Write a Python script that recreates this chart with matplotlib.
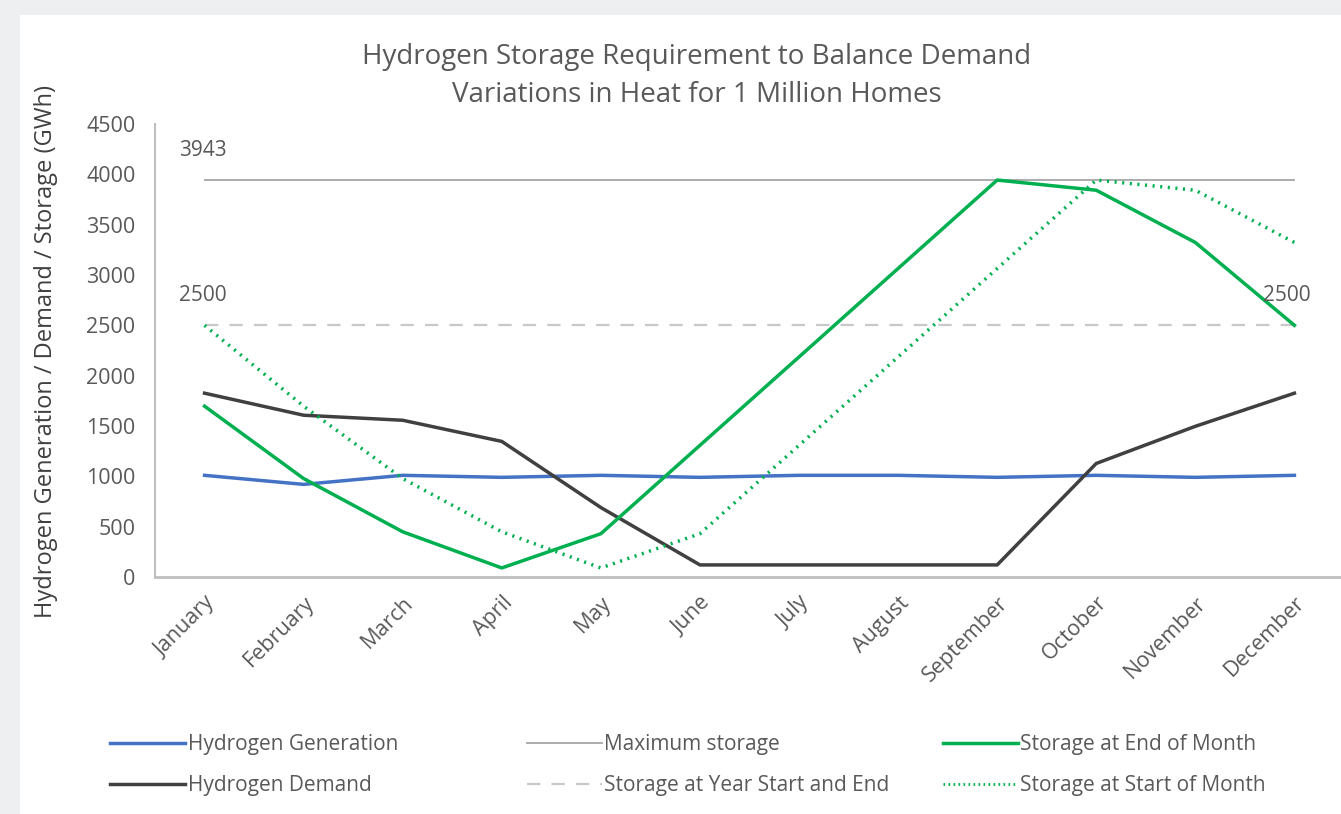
import matplotlib.pyplot as plt
from matplotlib.patches import Rectangle
from matplotlib.lines import Line2D

plt.rcParams['font.family'] = ['Open Sans', 'DejaVu Sans']

months = ["January", "February", "March", "April", "May", "June", "July",
          "August", "September", "October", "November", "December"]
generation = [1010, 920, 1010, 990, 1010, 990, 1010, 1010, 990, 1010, 990, 1010]
demand = [1826, 1607, 1557, 1347, 690, 120, 120, 120, 120, 1128, 1497, 1826]
storage_end = [1697, 978, 449, 90, 430, 1308, 2186, 3065, 3943, 3842, 3323, 2500]
storage_start = [2500, 1697, 978, 449, 90, 430, 1308, 2186, 3065, 3943, 3842, 3323]
max_storage = 3943
year_start_end = 2500

txt = '#595959'
fig = plt.figure(figsize=(13.41, 8.14), dpi=100)
fig.patch.set_facecolor('#EDEFF1')
fig.patches.append(Rectangle((20 / 1341, 0), 1, 1 - 15 / 814, transform=fig.transFigure,
                             facecolor='white', edgecolor='none', zorder=-5))

ax = fig.add_axes([155 / 1341, 237 / 814, 1 - 155 / 1341, 453 / 814])
ax.set_facecolor('none')
x = list(range(len(months)))

ax.plot(x, [max_storage] * len(x), color='#A6A6A6', lw=1.3)
ax.plot(x, [year_start_end] * len(x), color='#C8C8C8', lw=1.6, dashes=(6, 5))
ax.plot(x, generation, color='#4472C4', lw=2.5)
ax.plot(x, demand, color='#404040', lw=2.5)
ax.plot(x, storage_end, color='#00B050', lw=2.5)
ax.plot(x, storage_start, color='#00B050', lw=2.5, linestyle=(0, (0.6, 1.6)))

ax.text(-0.26, 4180, str(max_storage), color=txt, fontsize=15)
ax.text(-0.26, 2740, str(year_start_end), color=txt, fontsize=15)
ax.text(10.92, 2740, str(year_start_end), color=txt, fontsize=15, ha='center')

ax.set_xlim(-0.5, 11.47)
ax.set_ylim(0, 4500)
ax.set_yticks(range(0, 4501, 500))
ax.set_xticks(x)
ax.set_xticklabels(months, rotation=45, ha='right', rotation_mode='anchor')
ax.tick_params(axis='both', length=0, labelsize=15.5, labelcolor=txt)
ax.tick_params(axis='x', pad=11)
ax.tick_params(axis='y', pad=14)
for s in ['top', 'right']:
    ax.spines[s].set_visible(False)
ax.spines['left'].set_color('#BFBFBF')
ax.spines['bottom'].set_color('#BFBFBF')
ax.spines['left'].set_linewidth(1.5)
ax.spines['bottom'].set_linewidth(2)
ax.set_ylabel('Hydrogen Generation / Demand / Storage (GWh)', color='#404040', fontsize=17)
ax.yaxis.set_label_coords(-97 / 1186, 0.497)

fig.text(697 / 1341, 1 - 76 / 814, 'Hydrogen Storage Requirement to Balance Demand\nVariations in Heat for 1 Million Homes',
         ha='center', va='center', fontsize=20, color=txt, linespacing=1.5)

cols = [
    [('Hydrogen Generation', dict(color='#4472C4', lw=2.5)),
     ('Hydrogen Demand', dict(color='#404040', lw=2.5))],
    [('Maximum storage', dict(color='#A6A6A6', lw=1.3)),
     ('Storage at Year Start and End', dict(color='#C8C8C8', lw=1.6, dashes=(6, 5)))],
    [('Storage at End of Month', dict(color='#00B050', lw=2.5)),
     ('Storage at Start of Month', dict(color='#00B050', lw=2, linestyle=(0, (0.6, 1.2))))],
]
starts = [110, 527, 943]
for start, entries in zip(starts, cols):
    handles = [Line2D([], [], **kw) for _, kw in entries]
    labels = [lab for lab, _ in entries]
    leg = fig.legend(handles, labels, loc='upper left', bbox_to_anchor=(start / 1341, 1 - 734 / 814),
                     frameon=False, fontsize=15, handlelength=3.6, handletextpad=0.12,
                     labelspacing=0.95, borderaxespad=0, borderpad=0)
    for t in leg.get_texts():
        t.set_color(txt)

fig.savefig('out.png', dpi=100, facecolor=fig.get_facecolor())
